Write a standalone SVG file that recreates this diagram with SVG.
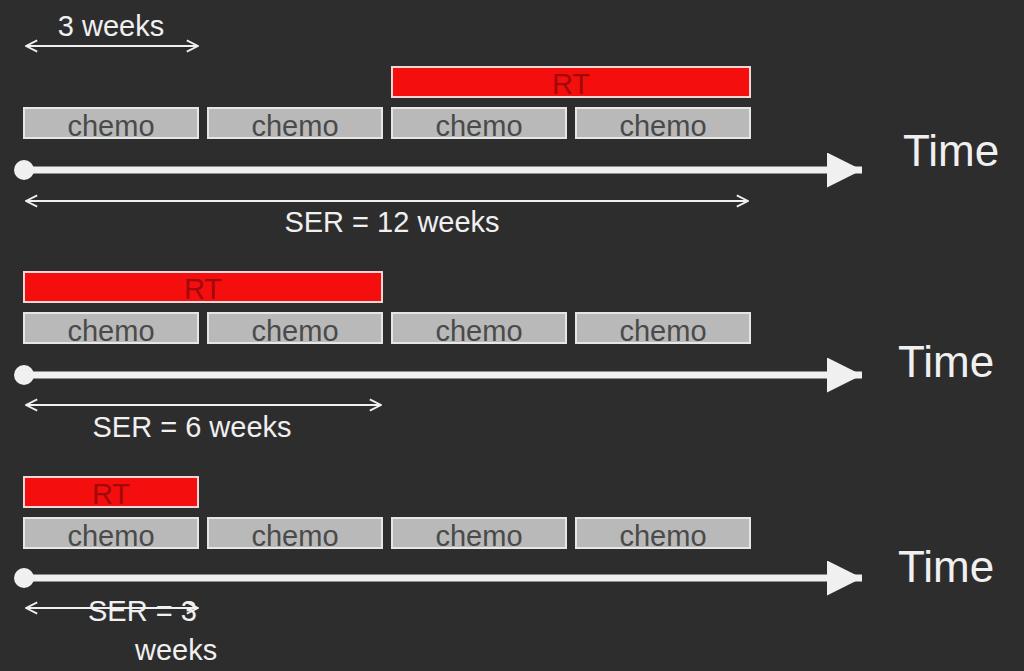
<svg xmlns="http://www.w3.org/2000/svg" width="1024" height="671" viewBox="0 0 1024 671">
<style>
.bg{fill:#2e2d2e}
.chemo rect{fill:#b9b9b9;stroke:#e6e6e6;stroke-width:2}
.chemo text{font-family:"Liberation Sans",Arial,sans-serif;font-size:29px;fill:#4a4a4a;text-anchor:middle}
.rt rect{fill:#f50e0e;stroke:#f2d6d6;stroke-width:2}
.rt text{font-family:"Liberation Sans",Arial,sans-serif;font-size:29px;fill:#a00a0a;text-anchor:middle}
.axis{stroke:#f0f0f0;stroke-width:7}
.dim{stroke:#f0f0f0;stroke-width:2;fill:none}
.lbl{font-family:"Liberation Sans",Arial,sans-serif;font-size:29px;fill:#f0f0f0}
.time{font-family:"Liberation Sans",Arial,sans-serif;font-size:44px;fill:#f0f0f0}
</style>
<defs>
<marker id="big" viewBox="0 0 10 10" refX="10" refY="5" markerWidth="5" markerHeight="5" markerUnits="strokeWidth" orient="auto"><path d="M0,0 L10,5 L0,10 Z" fill="#f0f0f0"/></marker>
<marker id="open" viewBox="0 0 10 10" refX="9" refY="5" markerWidth="7" markerHeight="7" markerUnits="strokeWidth" orient="auto-start-reverse"><path d="M1,1 L9,5 L1,9" fill="none" stroke="#f0f0f0" stroke-width="1.3"/></marker>
</defs>
<rect class="bg" width="1024" height="671"/>
<g id="dim-3weeks"><line class="dim" x1="26" y1="46" x2="198" y2="46" marker-start="url(#open)" marker-end="url(#open)"/><text class="lbl" x="111" y="36" text-anchor="middle">3 weeks</text></g>
<g id="row1">
<g id="rt1" class="rt"><rect x="392" y="67" width="358" height="30"/><text x="571" y="94">RT</text></g>
<g id="c11" class="chemo"><rect x="24" y="108" width="174" height="30"/><text x="111" y="136">chemo</text></g>
<g id="c12" class="chemo"><rect x="208" y="108" width="174" height="30"/><text x="295" y="136">chemo</text></g>
<g id="c13" class="chemo"><rect x="392" y="108" width="174" height="30"/><text x="479" y="136">chemo</text></g>
<g id="c14" class="chemo"><rect x="576" y="108" width="174" height="30"/><text x="663" y="136">chemo</text></g>
<text class="time" x="903" y="166">Time</text>
</g>
<g id="row2">
<g id="rt2" class="rt"><rect x="24" y="272" width="358" height="30"/><text x="203" y="299">RT</text></g>
<g id="c21" class="chemo"><rect x="24" y="313" width="174" height="30"/><text x="111" y="341">chemo</text></g>
<g id="c22" class="chemo"><rect x="208" y="313" width="174" height="30"/><text x="295" y="341">chemo</text></g>
<g id="c23" class="chemo"><rect x="392" y="313" width="174" height="30"/><text x="479" y="341">chemo</text></g>
<g id="c24" class="chemo"><rect x="576" y="313" width="174" height="30"/><text x="663" y="341">chemo</text></g>
<text class="time" x="898" y="377">Time</text>
</g>
<g id="row3">
<g id="rt3" class="rt"><rect x="24" y="477" width="174" height="30"/><text x="111" y="504">RT</text></g>
<g id="c31" class="chemo"><rect x="24" y="518" width="174" height="30"/><text x="111" y="546">chemo</text></g>
<g id="c32" class="chemo"><rect x="208" y="518" width="174" height="30"/><text x="295" y="546">chemo</text></g>
<g id="c33" class="chemo"><rect x="392" y="518" width="174" height="30"/><text x="479" y="546">chemo</text></g>
<g id="c34" class="chemo"><rect x="576" y="518" width="174" height="30"/><text x="663" y="546">chemo</text></g>
<text class="time" x="898" y="582">Time</text>
</g>
<g id="connectors">
<circle cx="24" cy="170" r="10" fill="#f0f0f0"/>
<line class="axis" x1="24" y1="170" x2="862" y2="170" marker-end="url(#big)"/>
<circle cx="24" cy="375" r="10" fill="#f0f0f0"/>
<line class="axis" x1="24" y1="375" x2="862" y2="375" marker-end="url(#big)"/>
<circle cx="24" cy="578" r="10" fill="#f0f0f0"/>
<line class="axis" x1="24" y1="578" x2="862" y2="578" marker-end="url(#big)"/>
<line class="dim" x1="26" y1="201" x2="748" y2="201" marker-start="url(#open)" marker-end="url(#open)"/>
<line class="dim" x1="26" y1="405" x2="381" y2="405" marker-start="url(#open)" marker-end="url(#open)"/>
<line class="dim" x1="26" y1="608" x2="198" y2="608" marker-start="url(#open)" marker-end="url(#open)"/>
</g>
<text class="lbl" x="392" y="232" text-anchor="middle">SER = 12 weeks</text>
<text class="lbl" x="192" y="437" text-anchor="middle">SER = 6 weeks</text>
<text class="lbl" x="88" y="621">SER = 3</text>
<text class="lbl" x="135" y="660">weeks</text>
</svg>
